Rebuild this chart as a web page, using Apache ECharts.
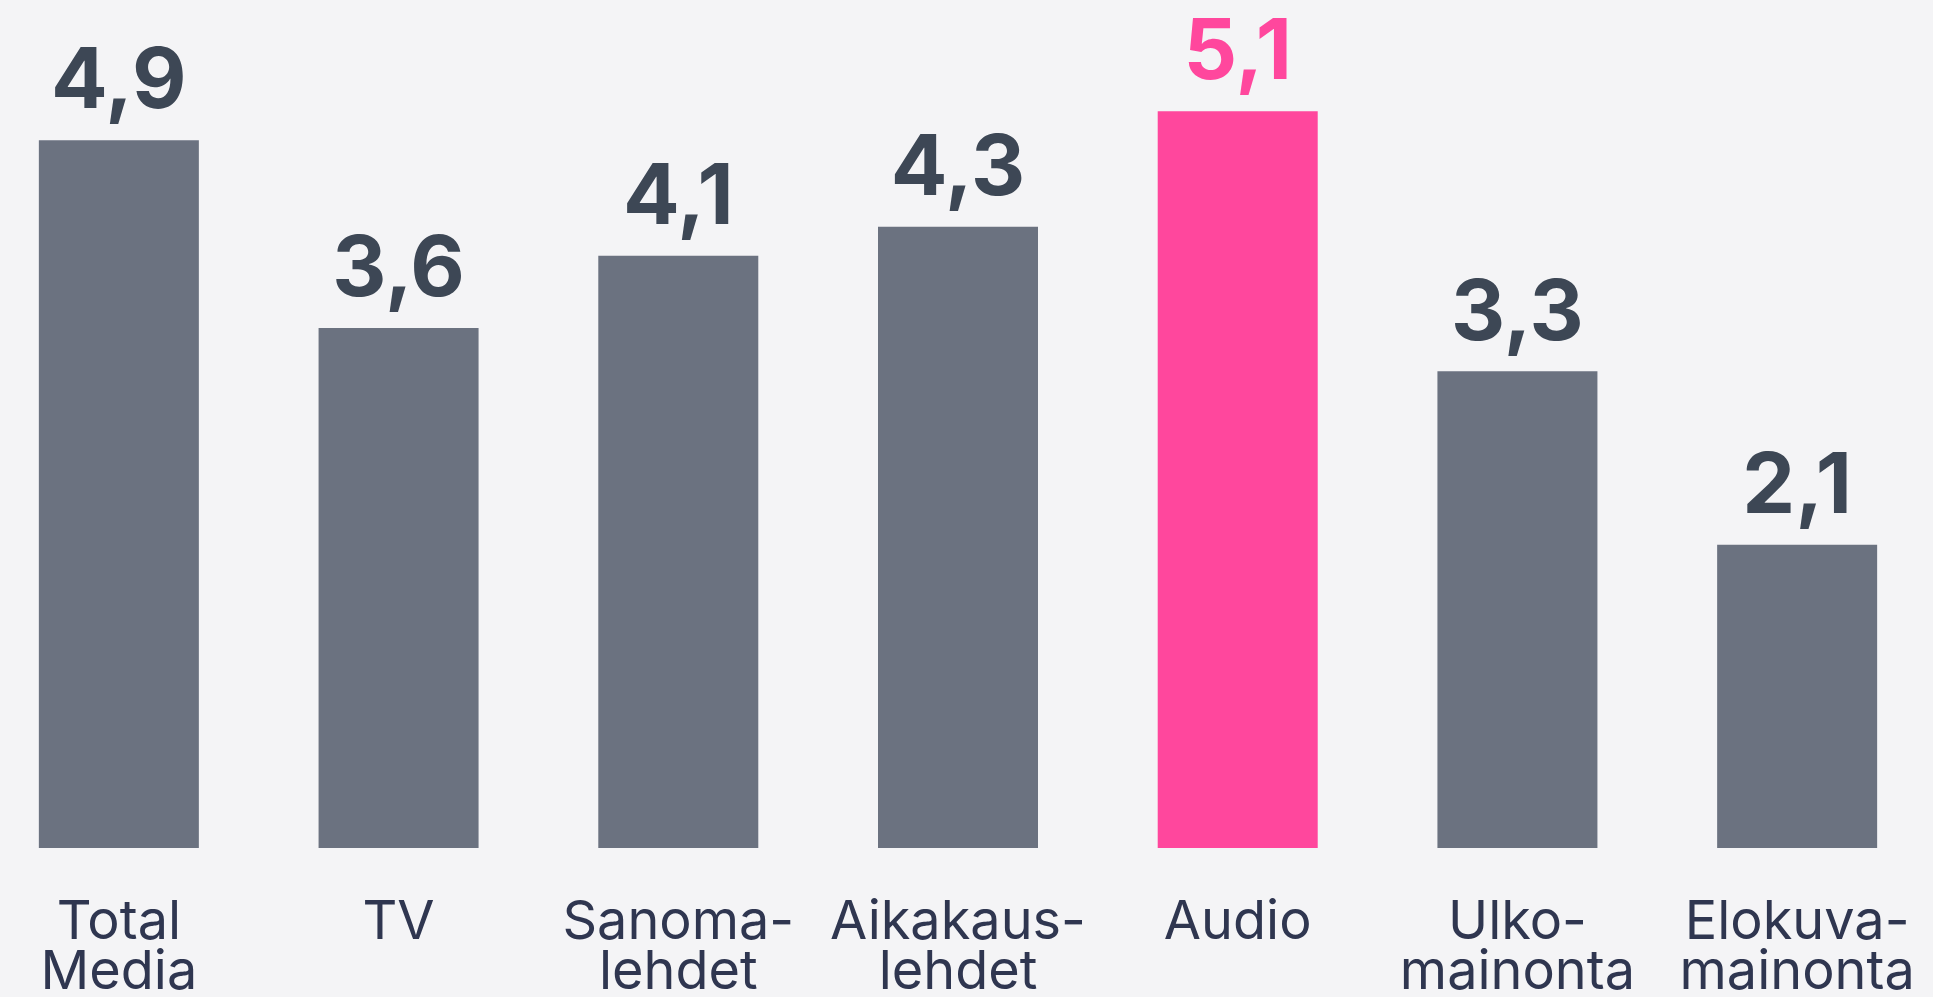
<!DOCTYPE html>
<html>
<head>
<meta charset="utf-8">
<script src="https://cdn.jsdelivr.net/npm/echarts@6/dist/echarts.min.js"></script>
<style>
  html, body { margin: 0; padding: 0; background: #f4f4f6; overflow: hidden; }
  #chart { position: absolute; left: -21px; top: 0; width: 1958px; height: 997px; }
</style>
</head>
<body>
<div id="chart"></div>
<script>
// categories + values
let categories = ['Total\nMedia', 'TV', 'Sanoma-\nlehdet', 'Aikakaus-\nlehdet', 'Audio', 'Ulko-\nmainonta', 'Elokuva-\nmainonta'];
let values = [4.9, 3.6, 4.1, 4.3, 5.1, 3.3, 2.1];
let highlight = 'Audio';

const greyBar = '#6b7280';
const pinkBar = '#ff479d';
const labelDark = '#3d4755';

let chartDom = document.getElementById('chart');
let barChart = echarts.init(chartDom);

const setData = () => {
  let data = [];
  for (let i = 0; i < values.length; i++) {
    let hot = categories[i] === highlight;
    data.push({
      value: values[i],
      itemStyle: { color: hot ? pinkBar : greyBar },
      label: { color: hot ? pinkBar : labelDark }
    });
  }
  return data;
}

let option = {
  backgroundColor: '#f4f4f6',
  grid: { left: 0, right: 0, top: 0, bottom: 149, containLabel: false, outerBoundsMode: 'none' },
  xAxis: {
    type: 'category',
    data: categories,
    axisLine: { show: false },
    axisTick: { show: false },
    axisLabel: {
      interval: 0,
      hideOverlap: false,
      margin: 50,
      fontFamily: 'Inter',
      fontSize: 54,
      lineHeight: 50,
      color: '#2f3650'
    }
  },
  yAxis: {
    type: 'value',
    min: 0,
    max: 5.87,
    show: false,
    splitLine: { show: false }
  },
  series: [{
    type: 'bar',
    barWidth: 160,
    data: setData(),
    label: {
      show: true,
      position: 'top',
      distance: 16,
      fontFamily: 'Inter',
      fontWeight: 'bold',
      fontSize: 84,
      lineHeight: 82,
      formatter: (p) => String(p.value).replace('.', ',')
    }
  }]
}

barChart.setOption(option, true);
</script>
</body>
</html>
